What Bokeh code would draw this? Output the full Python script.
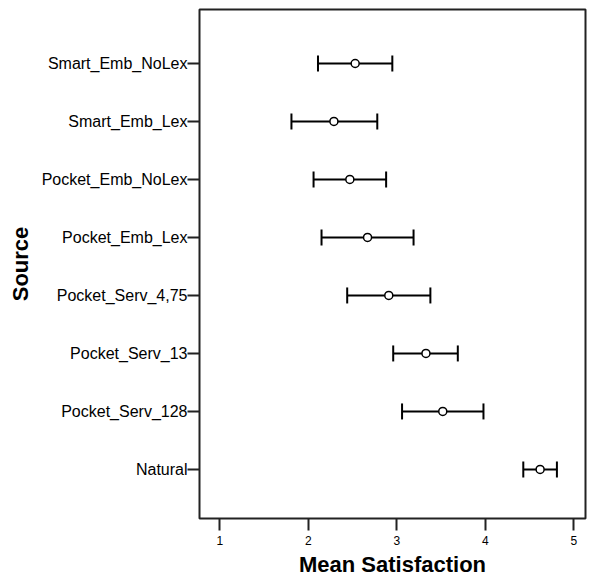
from bokeh.plotting import figure
from bokeh.models import ColumnDataSource, Whisker, TeeHead, FixedTicker, Range1d
from bokeh.embed import file_html
from bokeh.resources import INLINE

sources = ["Smart_Emb_NoLex", "Smart_Emb_Lex", "Pocket_Emb_NoLex", "Pocket_Emb_Lex",
           "Pocket_Serv_4,75", "Pocket_Serv_13", "Pocket_Serv_128", "Natural"]
means = [2.53, 2.29, 2.47, 2.67, 2.91, 3.33, 3.52, 4.62]
lower = [2.11, 1.81, 2.06, 2.15, 2.44, 2.96, 3.06, 4.43]
upper = [2.95, 2.78, 2.88, 3.19, 3.38, 3.69, 3.98, 4.81]
x_ticks = [1, 2, 3, 4, 5]

n = len(sources)
ypos = [n - i for i in range(n)]

src = ColumnDataSource(dict(y=ypos, mean=means, lower=lower, upper=upper, name=sources))

p = figure(width=587, height=579, output_backend="svg", toolbar_location=None,
           x_range=Range1d(0.771, 5.133), y_range=Range1d(0.154, 8.931),
           min_border_left=199, min_border_right=2, min_border_top=9, min_border_bottom=58)

p.outline_line_color = "#222222"
p.outline_line_width = 2
p.xgrid.visible = False
p.ygrid.visible = False
p.background_fill_color = "white"
p.border_fill_color = "white"

font = "Liberation Sans"

# x axis
p.xaxis.ticker = FixedTicker(ticks=x_ticks)
p.xaxis.axis_line_color = None
p.xaxis.major_tick_in = 0
p.xaxis.major_tick_out = 12
p.xaxis.major_tick_line_width = 2
p.xaxis.major_tick_line_color = "#222222"
p.xaxis.minor_tick_line_color = None
p.xaxis.major_label_text_font = font
p.xaxis.major_label_text_font_size = "12px"
p.xaxis.major_label_text_color = "black"
p.xaxis.major_label_standoff = 5
p.xaxis.axis_label = "Mean Satisfaction"
p.xaxis.axis_label_text_font = font
p.xaxis.axis_label_text_font_size = "22px"
p.xaxis.axis_label_text_font_style = "bold"
p.xaxis.axis_label_text_color = "black"
p.xaxis.axis_label_standoff = 4

# y axis
p.yaxis.ticker = FixedTicker(ticks=ypos)
p.yaxis.major_label_overrides = {y: s for y, s in zip(ypos, sources)}
p.yaxis.axis_line_color = None
p.yaxis.major_tick_in = 0
p.yaxis.major_tick_out = 12
p.yaxis.major_tick_line_width = 2
p.yaxis.major_tick_line_color = "#222222"
p.yaxis.minor_tick_line_color = None
p.yaxis.major_label_text_font = font
p.yaxis.major_label_text_font_size = "16px"
p.yaxis.major_label_text_color = "black"
p.yaxis.major_label_standoff = 0
p.yaxis.axis_label = "Source"
p.yaxis.axis_label_text_font = font
p.yaxis.axis_label_text_font_size = "22px"
p.yaxis.axis_label_text_font_style = "bold"
p.yaxis.axis_label_text_color = "black"
p.yaxis.axis_label_standoff = 6

w = Whisker(source=src, base="y", lower="lower", upper="upper", dimension="width",
            line_width=2, line_color="black",
            lower_head=TeeHead(size=16, line_width=2, line_color="black"),
            upper_head=TeeHead(size=16, line_width=2, line_color="black"))
p.add_layout(w)

p.scatter(x="mean", y="y", source=src, marker="circle", size=8,
          fill_color="white", line_color="black", line_width=1.5)

open("out.html", "w").write(file_html(p, INLINE))
